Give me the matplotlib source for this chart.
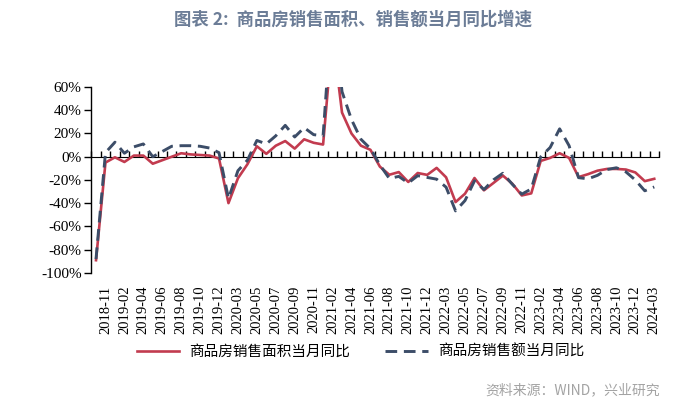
import matplotlib
matplotlib.use('Agg')
import matplotlib.pyplot as plt

plt.rcParams['font.family'] = ['Liberation Serif', 'Noto Sans CJK SC']

# months (Jan is merged into Feb in the source data)
months = ['2018-10', '2018-11', '2018-12',
          '2019-02', '2019-03', '2019-04', '2019-05', '2019-06', '2019-07', '2019-08', '2019-09', '2019-10', '2019-11', '2019-12',
          '2020-02', '2020-03', '2020-04', '2020-05', '2020-06', '2020-07', '2020-08', '2020-09', '2020-10', '2020-11', '2020-12',
          '2021-02', '2021-03', '2021-04', '2021-05', '2021-06', '2021-07', '2021-08', '2021-09', '2021-10', '2021-11', '2021-12',
          '2022-02', '2022-03', '2022-04', '2022-05', '2022-06', '2022-07', '2022-08', '2022-09', '2022-10', '2022-11', '2022-12',
          '2023-02', '2023-03', '2023-04', '2023-05', '2023-06', '2023-07', '2023-08', '2023-09', '2023-10', '2023-11', '2023-12',
          '2024-02', '2024-03']

# 商品房销售面积当月同比 (%)
area_yoy = [-89, -5, -0.5,
            -4.5, 1, 1, -6, -3, 0, 3, 2, 1.5, 1, -1.5,
            -39.9, -18.5, -6.5, 9, 2.5, 9.5, 13.5, 7, 15, 12, 10.5,
            104.9, 38, 20, 9.5, 6, -8.5, -15.5, -13.2, -21.7, -14, -15.6,
            -9.6, -17.7, -39, -31.8, -18.3, -28.9, -22.6, -16.2, -23.2, -33.3, -31.5,
            -3.6, -1, 3, -1, -17.5, -15, -12, -10.5, -10.5, -11, -13.5,
            -21, -19]

# 商品房销售额当月同比 (%)
sales_yoy = [-88, 3.5, 12.5,
             3, 8.5, 11, 0, 4.5, 9, 9.5, 9.5, 9, 7.5, 3.5,
             -35.9, -12, -3, 14, 11, 18, 27, 17, 25, 19, 18,
             133.4, 56, 32, 15, 7, -7, -18.7, -16.9, -22.6, -16.3, -17.8,
             -19.3, -26.2, -46.6, -37.7, -20.8, -28.2, -19.9, -14.2, -23.7, -32.2, -27.7,
             -0.1, 8, 24, 9.5, -18, -19, -16, -11, -9.5, -13, -20,
             -29.3, -26]

y_ticks = [60, 40, 20, 0, -20, -40, -60, -80, -100]

red = '#C23B4F'
navy = '#3C4D68'

fig = plt.figure(figsize=(7, 4.08), dpi=100)
ax = fig.add_axes([0.1304, 0.3309, 0.8110, 0.4559])

x = list(range(len(months)))
ax.plot(x, area_yoy, color=red, lw=1.9, label='商品房销售面积当月同比', zorder=3)
ax.plot(x, sales_yoy, color=navy, lw=2.1, dashes=(4, 2.3), label='商品房销售额当月同比', zorder=4)

ax.set_xlim(-0.5, len(months) - 0.5)
ax.set_ylim(-100, 60)

for s in ['top', 'right', 'bottom']:
    ax.spines[s].set_visible(False)
ax.spines['left'].set_linewidth(1.0)

ax.set_yticks(y_ticks, [f'{v}%' for v in y_ticks])
ax.tick_params(axis='y', direction='out', length=5, width=1, pad=2, labelsize=11)

lab_idx = x[1::2]
ax.set_xticks(lab_idx, [months[i] for i in lab_idx], rotation=90)
ax.tick_params(axis='x', length=0, pad=9, labelsize=10.5)

# zero line with category tick marks
zero_ax = ax.secondary_xaxis((0 - (-100)) / 160)
zero_ax.spines['bottom'].set_linewidth(1.0)
zero_ax.set_xticks([i - 0.5 for i in range(len(months) + 1)])
zero_ax.set_xticklabels([])
zero_ax.tick_params(direction='out', length=4, width=1)

fig.legend(loc='center', bbox_to_anchor=(0.515, 0.137), ncol=2, frameon=False,
           handlelength=2.9, columnspacing=2.4, handletextpad=0.7,
           prop={'size': 10.5})

fig.text(0.504, 0.951, '图表 2:  商品房销售面积、销售额当月同比增速', ha='center', va='center',
         fontsize=12.5, fontweight='bold', color='#6C7D97', family='Noto Sans CJK SC')
fig.text(0.943, 0.044, '资料来源：WIND，兴业研究', ha='right', va='center',
         fontsize=10, color='#A3A3A3', family='Noto Sans CJK SC')

fig.savefig('out.png', dpi=100)
